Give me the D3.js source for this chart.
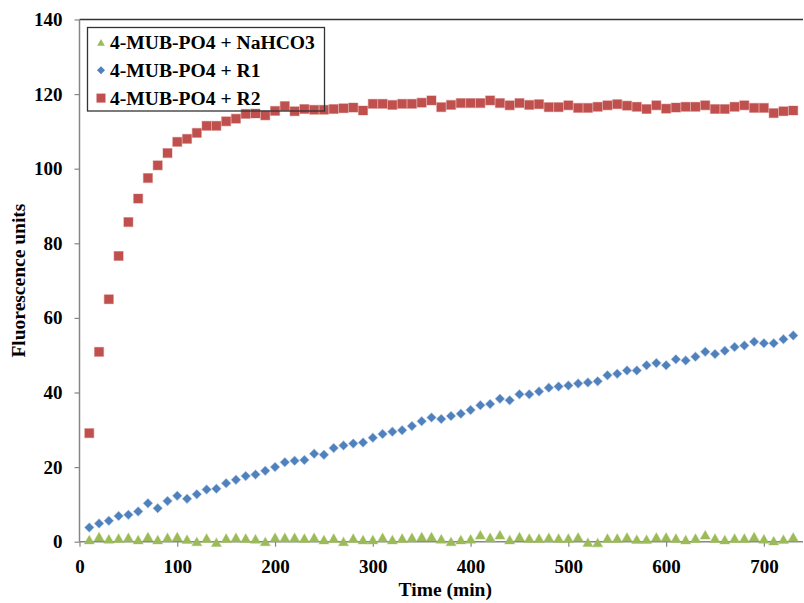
<!DOCTYPE html>
<html>
<head>
<meta charset="utf-8">
<script src="https://cdn.jsdelivr.net/npm/d3@7"></script>
<style>
  html, body { margin: 0; padding: 0; background: #fff; }
  svg { display: block; }
  text { font-family: "Liberation Serif", "Times New Roman", serif; font-weight: bold; fill: #000; }
</style>
</head>
<body>
<svg id="chart" width="804" height="603"></svg>
<script>
// Sampling times (min)
const times = d3.range(10, 731, 10);

// Fluorescence readings for each mixture, one value per sampling time
const nahco3 = [0.5, 1.3, 0.7, 0.9, 1.1, 0.5, 1.3, 0.5, 1.1, 1.3,
                0.6, 0.0, 0.9, -0.2, 0.9, 1.1, 0.9, 0.7, 0.0, 1.1,
                1.1, 1.1, 0.9, 1.1, 0.5, 0.9, 0.0, 0.9, 0.5, 0.5,
                1.1, 0.5, 0.9, 1.1, 1.3, 1.3, 0.7, 0.0, 0.5, 0.7,
                1.8, 1.1, 1.8, 0.5, 1.3, 0.9, 0.9, 1.1, 0.9, 0.9,
                1.2, -0.2, -0.3, 0.9, 0.9, 1.2, 0.6, 0.6, 1.2, 1.2,
                0.9, 0.5, 0.9, 1.8, 0.9, 0.5, 0.9, 0.9, 1.3, 0.7,
                0.2, 0.6, 1.2];

const r1 = [3.8, 4.9, 5.6, 6.9, 7.2, 8.1, 10.3, 9.0, 10.9, 12.3,
            11.5, 12.7, 14.0, 14.2, 15.7, 16.6, 17.6, 18.0, 19.0, 20.0,
            21.3, 21.7, 21.9, 23.6, 23.3, 25.1, 25.8, 26.3, 26.6, 27.9,
            28.9, 29.5, 29.9, 31.0, 32.3, 33.3, 32.9, 33.7, 34.3, 35.3,
            36.6, 36.9, 38.3, 37.9, 39.5, 39.5, 40.3, 41.3, 41.6, 41.9,
            42.4, 42.7, 43.0, 44.6, 45.0, 45.9, 45.9, 47.3, 47.9, 47.3,
            48.9, 48.6, 49.6, 50.9, 50.3, 51.2, 52.2, 52.6, 53.6, 53.2,
            53.2, 54.3, 55.3];

const r2 = [29.1, 50.9, 65.0, 76.6, 85.7, 92.0, 97.5, 100.9, 104.2, 107.2,
            108.0, 109.6, 111.5, 111.5, 112.7, 113.4, 114.7, 114.8, 114.3, 115.5,
            116.8, 115.4, 116.0, 115.8, 115.8, 116.0, 116.2, 116.4, 115.6, 117.4,
            117.4, 117.1, 117.4, 117.4, 117.7, 118.3, 116.5, 117.1, 117.6, 117.6,
            117.6, 118.3, 117.6, 117.0, 117.6, 117.1, 117.3, 116.5, 116.5, 117.0,
            116.3, 116.3, 116.6, 117.0, 117.3, 116.9, 116.6, 116.0, 117.0, 116.1,
            116.4, 116.6, 116.6, 117.0, 116.0, 116.0, 116.6, 117.0, 116.3, 116.3,
            114.9, 115.4, 115.6];

// Axis ticks
const xTicks = [0, 100, 200, 300, 400, 500, 600, 700];
const yTicks = [0, 20, 40, 60, 80, 100, 120, 140];

const seriesNames = ["4-MUB-PO4 + NaHCO3", "4-MUB-PO4 + R1", "4-MUB-PO4 + R2"];

// Marker shapes (centred on the origin)
const markerPath = {
  triangle: (s) => `M0,${-s * 0.5}L${s * 0.55},${s * 0.45}L${-s * 0.55},${s * 0.45}Z`,
  diamond:  (s) => `M0,${-s / 2}L${s / 2},0L0,${s / 2}L${-s / 2},0Z`,
  square:   (s) => `M${-s / 2},${-s / 2}h${s}v${s}h${-s}Z`
};

const series = [
  { name: seriesNames[0], values: nahco3, shape: "triangle", color: "#9BBB59", size: 9, legendSize: 7 },
  { name: seriesNames[1], values: r1,     shape: "diamond",  color: "#4F81BD", size: 9, legendSize: 8 },
  { name: seriesNames[2], values: r2,     shape: "square",   color: "#C0504D", size: 9, legendSize: 9 }
];

const svg = d3.select("#chart");
const plot = { left: 79.5, right: 803, top: 19.5, bottom: 541.7 };

const x = d3.scaleLinear().domain([0, 740]).range([plot.left, plot.right]);
const y = d3.scaleLinear().domain([0, 140]).range([plot.bottom, plot.top]);

// Top frame line of the plot area
svg.append("line")
  .attr("x1", plot.left).attr("x2", plot.right)
  .attr("y1", plot.top).attr("y2", plot.top)
  .attr("stroke", "#333").attr("stroke-width", 1.3);

// Axes
const xAxis = svg.append("g")
  .attr("transform", `translate(0,${plot.bottom})`)
  .call(d3.axisBottom(x).tickValues(xTicks).tickSize(5).tickSizeOuter(0).tickPadding(13));
const yAxis = svg.append("g")
  .attr("transform", `translate(${plot.left},0)`)
  .call(d3.axisLeft(y).tickValues(yTicks).tickSize(5).tickSizeOuter(0).tickPadding(12));

[xAxis, yAxis].forEach(g => {
  g.select(".domain").attr("stroke", "#868686").attr("stroke-width", 1.5);
  g.selectAll(".tick line").attr("stroke", "#868686").attr("stroke-width", 1.2);
  g.selectAll(".tick text")
    .attr("font-family", '"Liberation Serif", "Times New Roman", serif')
    .attr("font-weight", "bold")
    .attr("font-size", 19)
    .attr("fill", "#000");
});
// Stretch the x-axis line across the full plot width
xAxis.select(".domain").attr("d", `M${plot.left},0H${plot.right}`);
yAxis.select(".domain").attr("d", `M0,${plot.bottom}V${plot.top}`);

// Axis titles
svg.append("text")
  .attr("x", (plot.left + plot.right) / 2 + 4)
  .attr("y", 596)
  .attr("text-anchor", "middle")
  .attr("font-size", 19.5)
  .text("Time (min)");

svg.append("text")
  .attr("transform", `translate(25,${(plot.top + plot.bottom) / 2}) rotate(-90)`)
  .attr("text-anchor", "middle")
  .attr("font-size", 19.5)
  .text("Fluorescence units");

// Data markers
series.forEach(s => {
  svg.append("g")
    .selectAll("path")
    .data(times.map((t, i) => ({ t, v: s.values[i] })))
    .join("path")
    .attr("d", markerPath[s.shape](s.size))
    .attr("transform", d => `translate(${x(d.t)},${y(d.v)})`)
    .attr("fill", s.color)
    .attr("stroke", s.color)
    .attr("stroke-opacity", 0.35)
    .attr("stroke-width", 1.2);
});

// Legend
const legend = svg.append("g");
legend.append("rect")
  .attr("x", 87.5).attr("y", 27.5)
  .attr("width", 237).attr("height", 83.5)
  .attr("fill", "none")
  .attr("stroke", "#333").attr("stroke-width", 1.3);

series.forEach((s, i) => {
  const cy = 42.5 + i * 27.8;
  legend.append("path")
    .attr("d", markerPath[s.shape](s.legendSize))
    .attr("transform", `translate(101,${cy})`)
    .attr("fill", s.color);
  legend.append("text")
    .attr("x", 110)
    .attr("y", cy + 6.8)
    .attr("font-size", 19.6)
    .text(s.name);
});
</script>
</body>
</html>
